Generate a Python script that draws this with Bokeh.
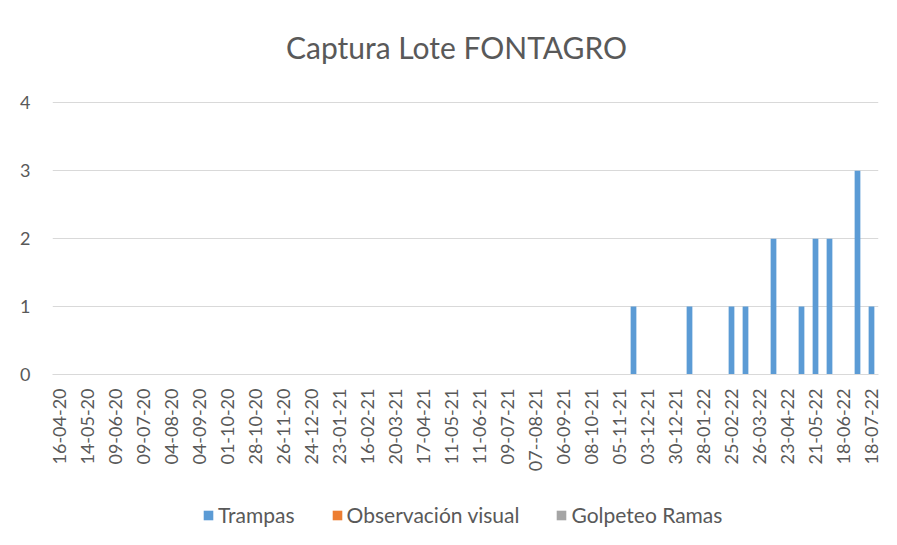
import math
from bokeh.plotting import figure
from bokeh.layouts import column
from bokeh.core.properties import value
from bokeh.models import Range1d, FixedTicker, Legend, LegendItem, ColumnDataSource
from bokeh.embed import file_html
from bokeh.resources import INLINE

title_text = "Captura Lote FONTAGRO"

# Tick labels (every other category is labelled)
date_labels = ["16-04-20", "14-05-20", "09-06-20", "09-07-20", "04-08-20", "04-09-20",
               "01-10-20", "28-10-20", "26-11-20", "24-12-20", "23-01-21", "16-02-21",
               "20-03-21", "17-04-21", "11-05-21", "11-06-21", "09-07-21", "07--08-21",
               "06-09-21", "08-10-21", "05-11-21", "03-12-21", "30-12-21", "28-01-22",
               "25-02-22", "26-03-22", "23-04-22", "21-05-22", "18-06-22", "18-07-22"]

# Values per sampling date (59 categories)
trampas = [0, 0, 0, 0, 0, 0, 0, 0, 0, 0,
           0, 0, 0, 0, 0, 0, 0, 0, 0, 0,
           0, 0, 0, 0, 0, 0, 0, 0, 0, 0,
           0, 0, 0, 0, 0, 0, 0, 0, 0, 0,
           0, 1, 0, 0, 0, 1, 0, 0, 1, 1,
           0, 2, 0, 1, 2, 2, 0, 3, 1]
observacion_visual = [0, 0, 0, 0, 0, 0, 0, 0, 0, 0,
                      0, 0, 0, 0, 0, 0, 0, 0, 0, 0,
                      0, 0, 0, 0, 0, 0, 0, 0, 0, 0,
                      0, 0, 0, 0, 0, 0, 0, 0, 0, 0,
                      0, 0, 0, 0, 0, 0, 0, 0, 0, 0,
                      0, 0, 0, 0, 0, 0, 0, 0, 0]
golpeteo_ramas = [0, 0, 0, 0, 0, 0, 0, 0, 0, 0,
                  0, 0, 0, 0, 0, 0, 0, 0, 0, 0,
                  0, 0, 0, 0, 0, 0, 0, 0, 0, 0,
                  0, 0, 0, 0, 0, 0, 0, 0, 0, 0,
                  0, 0, 0, 0, 0, 0, 0, 0, 0, 0,
                  0, 0, 0, 0, 0, 0, 0, 0, 0]
y_ticks = [0, 1, 2, 3, 4]
series_names = ["Trampas", "Observación visual", "Golpeteo Ramas"]
series_colors = ["#5B9BD5", "#ED7D31", "#A5A5A5"]

n = len(trampas)
x = list(range(n))
src = ColumnDataSource(dict(x=x, t=trampas, o=observacion_visual, g=golpeteo_ramas))

FONT = "Lato"
GREY = "#595959"
FW, ML, MR = 826, 52, 19


def strip(h):
    f = figure(frame_width=FW, frame_height=h, output_backend="svg", toolbar_location=None,
               x_range=Range1d(0, FW), y_range=Range1d(0, h),
               x_axis_type=None, y_axis_type=None,
               min_border_left=ML, min_border_right=MR, min_border_top=0, min_border_bottom=0)
    f.outline_line_color = None
    f.grid.visible = False
    f.background_fill_color = "white"
    f.border_fill_color = "white"
    return f


# Title strip
t = strip(66)
t.text(x=[404], y=[19.5], text=[title_text], text_align="center", text_baseline="middle",
       text_font=value(FONT), text_font_size=value("30px"), text_color=GREY)

# Main chart
p = figure(frame_width=FW, frame_height=273, output_backend="svg", toolbar_location=None,
           x_range=Range1d(-0.5, n - 0.5), y_range=Range1d(0, 4.02),
           min_border_left=ML, min_border_right=MR, min_border_top=35, min_border_bottom=117)
p.outline_line_color = None
p.background_fill_color = "white"
p.border_fill_color = "white"

for col, color in zip(["t", "o", "g"], series_colors):
    p.vbar(x="x", top=col, width=0.41, source=src, fill_color=color, line_color=None)

p.xgrid.visible = False
p.ygrid.grid_line_color = "#d9d9d9"
p.ygrid.grid_line_width = 1
p.yaxis.ticker = FixedTicker(ticks=y_ticks)
p.yaxis.minor_tick_line_color = None
p.yaxis.major_tick_line_color = None
p.yaxis.major_tick_out = 0
p.yaxis.major_tick_in = 0
p.yaxis.axis_line_color = None
p.yaxis.major_label_standoff = 22
p.yaxis.major_label_text_font = FONT
p.yaxis.major_label_text_font_size = "18px"
p.yaxis.major_label_text_color = GREY

p.xaxis.ticker = FixedTicker(ticks=[2 * i for i in range(len(date_labels))])
p.xaxis.major_label_overrides = {2 * i: d for i, d in enumerate(date_labels)}
p.xaxis.major_label_orientation = math.pi / 2
p.xaxis.minor_tick_line_color = None
p.xaxis.major_tick_line_color = None
p.xaxis.major_tick_out = 0
p.xaxis.major_tick_in = 0
p.xaxis.axis_line_color = "#d9d9d9"
p.xaxis.major_label_standoff = 14
p.xaxis.major_label_text_font = FONT
p.xaxis.major_label_text_font_size = "18px"
p.xaxis.major_label_text_color = GREY

# Legend strip
q = strip(54)
items = []
for name, color in zip(series_names, series_colors):
    r = q.vbar(x=[10], bottom=[-5], top=[-5], width=1, fill_color=color, line_color=None)
    items.append(LegendItem(label=name, renderers=[r]))

legend = Legend(items=items, orientation="horizontal", location=(150, 18))
legend.border_line_color = None
legend.background_fill_alpha = 0
legend.glyph_width = 12
legend.glyph_height = 12
legend.label_standoff = 4
legend.spacing = 36
legend.label_text_font = FONT
legend.label_text_font_size = "21px"
legend.label_text_color = GREY
legend.margin = 0
legend.padding = 4
q.add_layout(legend, "center")

layout = column(t, p, q, spacing=0)
open("out.html", "w").write(file_html(layout, INLINE))
